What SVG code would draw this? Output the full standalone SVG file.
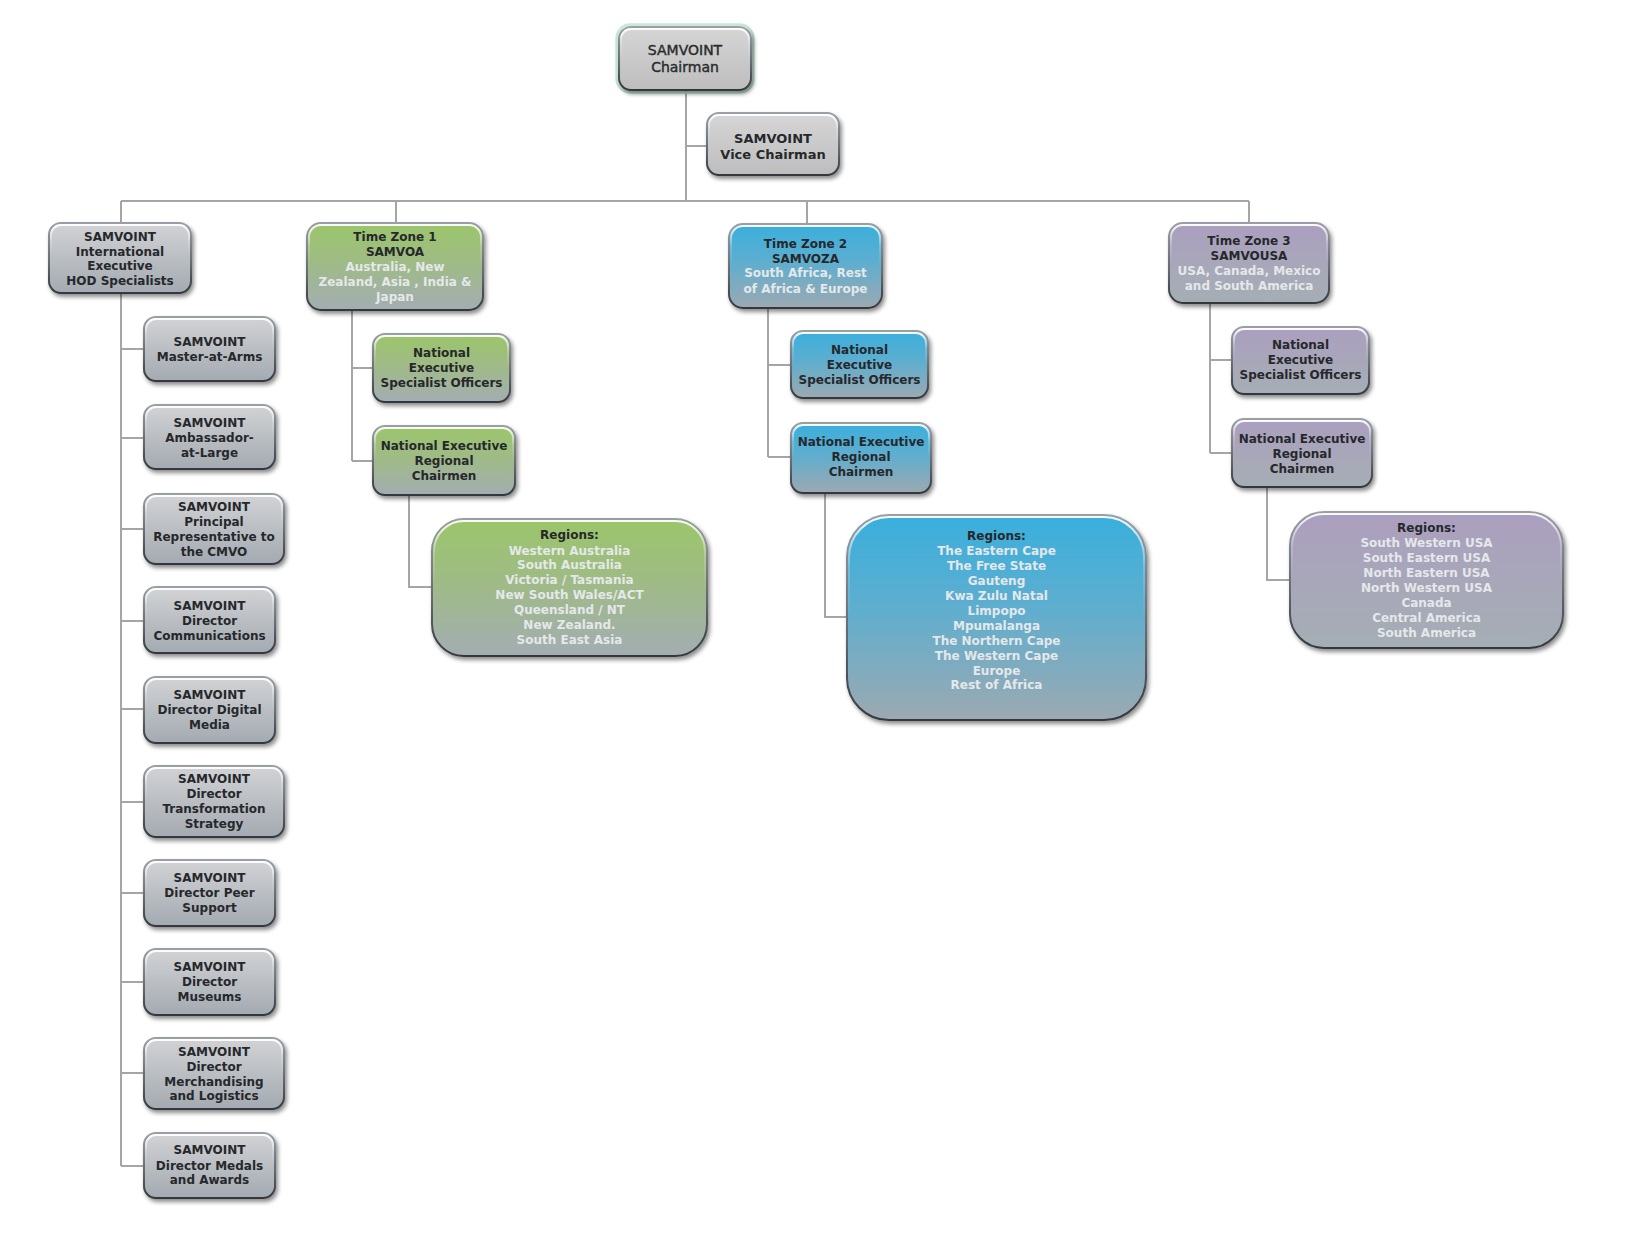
<svg xmlns="http://www.w3.org/2000/svg" width="1645" height="1241" viewBox="0 0 1645 1241">
<defs>
<linearGradient id="gGray" x1="0" y1="0" x2="0" y2="1"><stop offset="0" stop-color="#d2d3d5"/><stop offset="1" stop-color="#a3aab1"/></linearGradient>
<linearGradient id="gChair" x1="0" y1="0" x2="0" y2="1"><stop offset="0" stop-color="#d6d6d6"/><stop offset="1" stop-color="#bdbdbd"/></linearGradient>
<linearGradient id="gGreen" x1="0" y1="0" x2="0" y2="1"><stop offset="0" stop-color="#9bc66a"/><stop offset="0.45" stop-color="#9fbb85"/><stop offset="1" stop-color="#a3adb2"/></linearGradient>
<linearGradient id="gBlue" x1="0" y1="0" x2="0" y2="1"><stop offset="0" stop-color="#39afdd"/><stop offset="0.45" stop-color="#5eaecf"/><stop offset="1" stop-color="#9ca9b1"/></linearGradient>
<linearGradient id="gPurple" x1="0" y1="0" x2="0" y2="1"><stop offset="0" stop-color="#ab9fbf"/><stop offset="1" stop-color="#a5aeb4"/></linearGradient>
<linearGradient id="gEdge" x1="0" y1="0" x2="0" y2="1"><stop offset="0" stop-color="#9a9fa5"/><stop offset="0.6" stop-color="#62686f"/><stop offset="1" stop-color="#33383d"/></linearGradient>
<linearGradient id="gHi" x1="0" y1="0" x2="0" y2="1"><stop offset="0" stop-color="#ffffff" stop-opacity="0.95"/><stop offset="0.25" stop-color="#ffffff" stop-opacity="0.2"/><stop offset="0.5" stop-color="#ffffff" stop-opacity="0"/></linearGradient>
<filter id="sh" x="-10%" y="-10%" width="125%" height="135%"><feDropShadow dx="2" dy="3" stdDeviation="2" flood-color="#000" flood-opacity="0.45"/></filter>
</defs>
<style>
.box{stroke:url(#gEdge);stroke-width:2;filter:url(#sh)}
.hi{fill:none;stroke:url(#gHi);stroke-width:2}
.gray{fill:url(#gGray)}
.green{fill:url(#gGreen)}
.blue{fill:url(#gBlue)}
.purple{fill:url(#gPurple)}
text{font-family:"DejaVu Sans",Verdana,sans-serif;font-weight:bold;font-size:12px;text-anchor:middle;fill:#26282b}
text .lt{fill:#e4e8ea}
.big{font-size:14px;font-weight:normal;fill:#2a2a2a;stroke:#2a2a2a;stroke-width:0.4}
.vc{font-size:13px}
.conn{fill:none;stroke:#a5a5a5;stroke-width:2}
</style>

<g id="connectors" class="conn">
<path d="M686 90V201M686 146H707"/>
<path d="M121 201H1249M121 201V223M396 201V223M807 201V224M1249 201V223"/>
<path d="M121 293V1166M121 349H144M121 438H144M121 529H144M121 621H144M121 709H144M121 802H144M121 893H144M121 982H144M121 1073H144M121 1166H144"/>
<path d="M352 310V461M352 368H373M352 461H373M409 495V587H432"/>
<path d="M768 308V457M768 365H791M768 457H791M825 493V617H847"/>
<path d="M1210 303V453M1210 360H1232M1210 453H1232M1267 487V580H1290"/>
</g>

<g id="chairman">
<rect x="616.5" y="24.5" width="137" height="68" rx="14" fill="none" stroke="#c4ead5" stroke-width="2.5"/>
<rect class="box" x="619" y="27" width="132" height="63" rx="12" fill="url(#gChair)"/>
<rect class="hi" x="621" y="29" width="128" height="59" rx="10"/>
<text class="big" x="685" y="55">SAMVOINT</text>
<text class="big" x="685" y="72">Chairman</text>
</g>

<g id="vice-chairman">
<rect class="box" x="707" y="113" width="132" height="62" rx="12" fill="url(#gChair)"/>
<rect class="hi" x="709" y="115" width="128" height="58" rx="10"/>
<text class="vc" x="773" y="143">SAMVOINT</text>
<text class="vc" x="773" y="159">Vice Chairman</text>
</g>

<g id="intl-exec">
<rect class="box gray" x="49" y="223" width="142" height="70" rx="12"/>
<rect class="hi" x="51" y="225" width="138" height="66" rx="10"/>
<text x="120" y="241">SAMVOINT</text>
<text x="120" y="256">International</text>
<text x="120" y="270">Executive</text>
<text x="120" y="285">HOD Specialists</text>
</g>

<g id="master-at-arms">
<rect class="box gray" x="144" y="317" width="131" height="64" rx="12"/>
<rect class="hi" x="146" y="319" width="127" height="60" rx="10"/>
<text x="209.5" y="346">SAMVOINT</text>
<text x="209.5" y="361">Master-at-Arms</text>
</g>

<g id="ambassador">
<rect class="box gray" x="144" y="405" width="131" height="64" rx="12"/>
<rect class="hi" x="146" y="407" width="127" height="60" rx="10"/>
<text x="209.5" y="427">SAMVOINT</text>
<text x="209.5" y="442">Ambassador-</text>
<text x="209.5" y="457">at-Large</text>
</g>

<g id="principal-rep">
<rect class="box gray" x="144" y="494" width="140" height="70" rx="12"/>
<rect class="hi" x="146" y="496" width="136" height="66" rx="10"/>
<text x="214" y="511">SAMVOINT</text>
<text x="214" y="526">Principal</text>
<text x="214" y="541">Representative to</text>
<text x="214" y="556">the CMVO</text>
</g>

<g id="dir-communications">
<rect class="box gray" x="144" y="587" width="131" height="66" rx="12"/>
<rect class="hi" x="146" y="589" width="127" height="62" rx="10"/>
<text x="209.5" y="610">SAMVOINT</text>
<text x="209.5" y="625">Director</text>
<text x="209.5" y="640">Communications</text>
</g>

<g id="dir-digital-media">
<rect class="box gray" x="144" y="677" width="131" height="66" rx="12"/>
<rect class="hi" x="146" y="679" width="127" height="62" rx="10"/>
<text x="209.5" y="699">SAMVOINT</text>
<text x="209.5" y="714">Director Digital</text>
<text x="209.5" y="729">Media</text>
</g>

<g id="dir-transformation">
<rect class="box gray" x="144" y="766" width="140" height="71" rx="12"/>
<rect class="hi" x="146" y="768" width="136" height="67" rx="10"/>
<text x="214" y="783">SAMVOINT</text>
<text x="214" y="798">Director</text>
<text x="214" y="813">Transformation</text>
<text x="214" y="828">Strategy</text>
</g>

<g id="dir-peer-support">
<rect class="box gray" x="144" y="860" width="131" height="66" rx="12"/>
<rect class="hi" x="146" y="862" width="127" height="62" rx="10"/>
<text x="209.5" y="882">SAMVOINT</text>
<text x="209.5" y="897">Director Peer</text>
<text x="209.5" y="912">Support</text>
</g>

<g id="dir-museums">
<rect class="box gray" x="144" y="949" width="131" height="66" rx="12"/>
<rect class="hi" x="146" y="951" width="127" height="62" rx="10"/>
<text x="209.5" y="971">SAMVOINT</text>
<text x="209.5" y="986">Director</text>
<text x="209.5" y="1001">Museums</text>
</g>

<g id="dir-merchandising">
<rect class="box gray" x="144" y="1038" width="140" height="71" rx="12"/>
<rect class="hi" x="146" y="1040" width="136" height="67" rx="10"/>
<text x="214" y="1056">SAMVOINT</text>
<text x="214" y="1071">Director</text>
<text x="214" y="1086">Merchandising</text>
<text x="214" y="1100">and Logistics</text>
</g>

<g id="dir-medals">
<rect class="box gray" x="144" y="1133" width="131" height="65" rx="12"/>
<rect class="hi" x="146" y="1135" width="127" height="61" rx="10"/>
<text x="209.5" y="1154">SAMVOINT</text>
<text x="209.5" y="1170">Director Medals</text>
<text x="209.5" y="1184">and Awards</text>
</g>

<g id="tz1">
<rect class="box green" x="307" y="223" width="176" height="87" rx="14"/>
<rect class="hi" x="309" y="225" width="172" height="83" rx="12"/>
<text x="395" y="241">Time Zone 1</text>
<text x="395" y="256">SAMVOA</text>
<text x="395" y="271"><tspan class="lt">Australia, New</tspan></text>
<text x="395" y="286"><tspan class="lt">Zealand, Asia , India &amp;</tspan></text>
<text x="395" y="301"><tspan class="lt">Japan</tspan></text>
</g>

<g id="tz1-neso">
<rect class="box green" x="373" y="334" width="137" height="68" rx="12"/>
<rect class="hi" x="375" y="336" width="133" height="64" rx="10"/>
<text x="441.5" y="357">National</text>
<text x="441.5" y="372">Executive</text>
<text x="441.5" y="387">Specialist Officers</text>
</g>

<g id="tz1-nerc">
<rect class="box green" x="373" y="426" width="142" height="69" rx="12"/>
<rect class="hi" x="375" y="428" width="138" height="65" rx="10"/>
<text x="444" y="450">National Executive</text>
<text x="444" y="465">Regional</text>
<text x="444" y="480">Chairmen</text>
</g>

<g id="tz1-regions">
<rect class="box green" x="432" y="519" width="275" height="137" rx="32"/>
<rect class="hi" x="434" y="521" width="271" height="133" rx="30"/>
<text x="569.5" y="539">Regions:</text>
<text x="569.5" y="555"><tspan class="lt">Western Australia</tspan></text>
<text x="569.5" y="569"><tspan class="lt">South Australia</tspan></text>
<text x="569.5" y="584"><tspan class="lt">Victoria / Tasmania</tspan></text>
<text x="569.5" y="599"><tspan class="lt">New South Wales/ACT</tspan></text>
<text x="569.5" y="614"><tspan class="lt">Queensland / NT</tspan></text>
<text x="569.5" y="629"><tspan class="lt">New Zealand.</tspan></text>
<text x="569.5" y="644"><tspan class="lt">South East Asia</tspan></text>
</g>

<g id="tz2">
<rect class="box blue" x="729" y="224" width="153" height="84" rx="14"/>
<rect class="hi" x="731" y="226" width="149" height="80" rx="12"/>
<text x="805.5" y="248">Time Zone 2</text>
<text x="805.5" y="263">SAMVOZA</text>
<text x="805.5" y="277"><tspan class="lt">South Africa, Rest</tspan></text>
<text x="805.5" y="293"><tspan class="lt">of Africa &amp; Europe</tspan></text>
</g>

<g id="tz2-neso">
<rect class="box blue" x="791" y="331" width="137" height="67" rx="12"/>
<rect class="hi" x="793" y="333" width="133" height="63" rx="10"/>
<text x="859.5" y="354">National</text>
<text x="859.5" y="369">Executive</text>
<text x="859.5" y="384">Specialist Officers</text>
</g>

<g id="tz2-nerc">
<rect class="box blue" x="791" y="423" width="140" height="70" rx="12"/>
<rect class="hi" x="793" y="425" width="136" height="66" rx="10"/>
<text x="861" y="446">National Executive</text>
<text x="861" y="461">Regional</text>
<text x="861" y="476">Chairmen</text>
</g>

<g id="tz2-regions">
<rect class="box blue" x="847" y="515" width="299" height="205" rx="42"/>
<rect class="hi" x="849" y="517" width="295" height="201" rx="40"/>
<text x="996.5" y="540">Regions:</text>
<text x="996.5" y="555"><tspan class="lt">The Eastern Cape</tspan></text>
<text x="996.5" y="570"><tspan class="lt">The Free State</tspan></text>
<text x="996.5" y="585"><tspan class="lt">Gauteng</tspan></text>
<text x="996.5" y="600"><tspan class="lt">Kwa Zulu Natal</tspan></text>
<text x="996.5" y="615"><tspan class="lt">Limpopo</tspan></text>
<text x="996.5" y="630"><tspan class="lt">Mpumalanga</tspan></text>
<text x="996.5" y="645"><tspan class="lt">The Northern Cape</tspan></text>
<text x="996.5" y="660"><tspan class="lt">The Western Cape</tspan></text>
<text x="996.5" y="675"><tspan class="lt">Europe</tspan></text>
<text x="996.5" y="689"><tspan class="lt">Rest of Africa</tspan></text>
</g>

<g id="tz3">
<rect class="box purple" x="1169" y="223" width="160" height="80" rx="14"/>
<rect class="hi" x="1171" y="225" width="156" height="76" rx="12"/>
<text x="1249" y="245">Time Zone 3</text>
<text x="1249" y="260">SAMVOUSA</text>
<text x="1249" y="275"><tspan class="lt">USA, Canada, Mexico</tspan></text>
<text x="1249" y="290"><tspan class="lt">and South America</tspan></text>
</g>

<g id="tz3-neso">
<rect class="box purple" x="1232" y="327" width="137" height="67" rx="12"/>
<rect class="hi" x="1234" y="329" width="133" height="63" rx="10"/>
<text x="1300.5" y="349">National</text>
<text x="1300.5" y="364">Executive</text>
<text x="1300.5" y="379">Specialist Officers</text>
</g>

<g id="tz3-nerc">
<rect class="box purple" x="1232" y="419" width="140" height="68" rx="12"/>
<rect class="hi" x="1234" y="421" width="136" height="64" rx="10"/>
<text x="1302" y="443">National Executive</text>
<text x="1302" y="458">Regional</text>
<text x="1302" y="473">Chairmen</text>
</g>

<g id="tz3-regions">
<rect class="box purple" x="1290" y="512" width="273" height="136" rx="34"/>
<rect class="hi" x="1292" y="514" width="269" height="132" rx="32"/>
<text x="1426.5" y="532">Regions:</text>
<text x="1426.5" y="547"><tspan class="lt">South Western USA</tspan></text>
<text x="1426.5" y="562"><tspan class="lt">South Eastern USA</tspan></text>
<text x="1426.5" y="577"><tspan class="lt">North Eastern USA</tspan></text>
<text x="1426.5" y="592"><tspan class="lt">North Western USA</tspan></text>
<text x="1426.5" y="607"><tspan class="lt">Canada</tspan></text>
<text x="1426.5" y="622"><tspan class="lt">Central America</tspan></text>
<text x="1426.5" y="637"><tspan class="lt">South America</tspan></text>
</g>
</svg>
